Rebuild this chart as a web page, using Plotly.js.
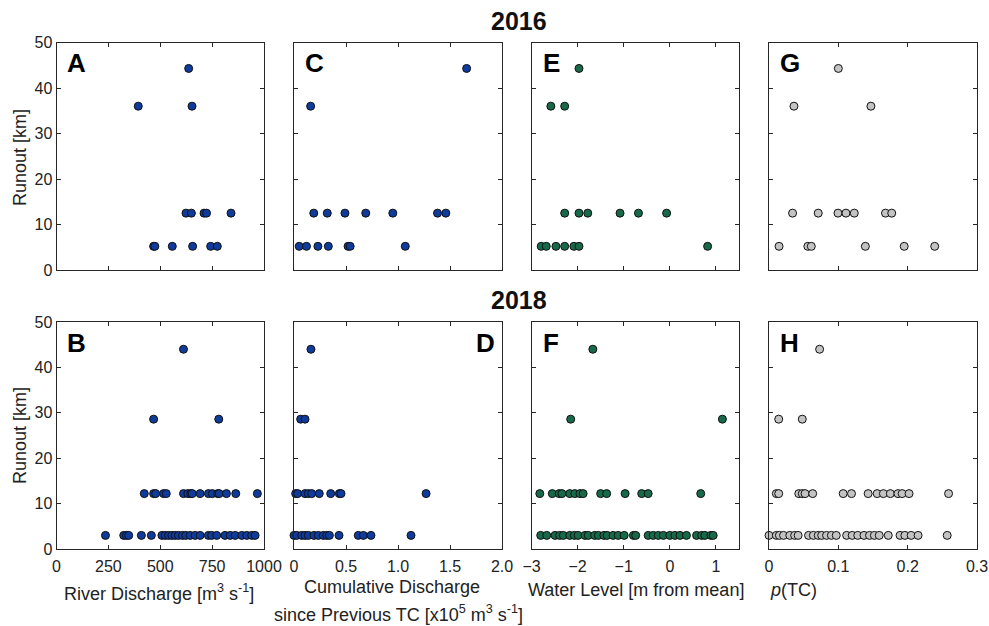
<!DOCTYPE html>
<html><head><meta charset="utf-8">
<script src="https://cdn.plot.ly/plotly-3.0.1.min.js"></script>
<style>html,body{margin:0;padding:0;background:#fff}#chart{width:989px;height:626px}</style>
</head><body><div id="chart"></div><script>
// ---------- 2016 ----------
const runoutA = [44.3, 36, 36, 12.5, 12.5, 12.5, 12.5, 12.5, 5.2, 5.2, 5.2, 5.2, 5.2, 5.2];
const dischargeA = [637, 394, 653, 624, 650, 711, 723, 841, 468, 474, 558, 656, 743, 775];

const runoutC = [44.3, 36, 12.5, 12.5, 12.5, 12.5, 12.5, 12.5, 12.5, 5.2, 5.2, 5.2, 5.2, 5.2, 5.2, 5.2];
const cumDischargeC = [1.66, 0.16, 0.19, 0.32, 0.49, 0.69, 0.95, 1.38, 1.46, 0.05, 0.12, 0.23, 0.33, 0.52, 0.54, 1.07];

const runoutE = [44.3, 36, 36, 12.5, 12.5, 12.5, 12.5, 12.5, 12.5, 5.2, 5.2, 5.2, 5.2, 5.2, 5.2, 5.2];
const waterLevelE = [-1.97, -2.58, -2.28, -2.28, -1.97, -1.78, -1.08, -0.68, -0.07, -2.79, -2.68, -2.47, -2.28, -2.08, -1.97, 0.82];

const runoutG = [44.3, 36, 36, 12.5, 12.5, 12.5, 12.5, 12.5, 12.5, 12.5, 5.2, 5.2, 5.2, 5.2, 5.2, 5.2];
const pTCG = [0.100, 0.036, 0.147, 0.034, 0.071, 0.0995, 0.111, 0.123, 0.168, 0.177, 0.0145, 0.056, 0.061, 0.139, 0.195, 0.239];

// ---------- 2018 ----------
const runoutB = [44, 28.6, 28.6,
  12.2, 12.2, 12.2, 12.2, 12.2, 12.2, 12.2, 12.2, 12.2, 12.2, 12.2, 12.2, 12.2, 12.2, 12.2, 12.2, 12.2,
  3.0, 3.0, 3.0, 3.0, 3.0, 3.0, 3.0, 3.0, 3.0, 3.0, 3.0, 3.0, 3.0, 3.0, 3.0, 3.0, 3.0, 3.0, 3.0, 3.0, 3.0, 3.0, 3.0, 3.0, 3.0, 3.0, 3.0];
const dischargeB = [612, 468, 782,
  423, 468, 478, 516, 529, 612, 633, 647, 654, 692, 732, 751, 777, 784, 819, 864, 968,
  236, 324, 337, 348, 409, 457, 508, 524, 540, 556, 572, 588, 607, 623, 644, 668, 692, 732, 748, 772, 812, 837, 861, 893, 917, 941, 957];

const runoutD = [44, 28.6, 28.6,
  12.2, 12.2, 12.2, 12.2, 12.2, 12.2, 12.2, 12.2, 12.2, 12.2,
  3.0, 3.0, 3.0, 3.0, 3.0, 3.0, 3.0, 3.0, 3.0, 3.0, 3.0, 3.0, 3.0, 3.0, 3.0];
const cumDischargeD = [0.163, 0.064, 0.106,
  0.016, 0.035, 0.106, 0.138, 0.17, 0.243, 0.353, 0.436, 0.452, 1.27,
  0.0, 0.026, 0.074, 0.106, 0.138, 0.192, 0.234, 0.282, 0.314, 0.34, 0.433, 0.618, 0.667, 0.74, 1.125];

const runoutF = [44, 28.6, 28.6,
  12.2, 12.2, 12.2, 12.2, 12.2, 12.2, 12.2, 12.2, 12.2, 12.2, 12.2, 12.2, 12.2, 12.2,
  3.0, 3.0, 3.0, 3.0, 3.0, 3.0, 3.0, 3.0, 3.0, 3.0, 3.0, 3.0, 3.0, 3.0, 3.0, 3.0,
  3.0, 3.0, 3.0, 3.0, 3.0, 3.0, 3.0, 3.0, 3.0, 3.0, 3.0, 3.0, 3.0, 3.0, 3.0, 3.0];
const waterLevelF = [-1.67, -2.15, 1.14,
  -2.82, -2.55, -2.40, -2.34, -2.17, -2.06, -1.95, -1.88, -1.50, -1.37, -0.97, -0.61, -0.47, 0.67,
  -2.80, -2.67, -2.49, -2.39, -2.31, -2.17, -2.07, -1.99, -1.84, -1.77, -1.63, -1.55, -1.43, -1.36, -1.23, -1.12,
  -0.99, -0.79, -0.74, -0.47, -0.36, -0.25, -0.14, 0.00, 0.11, 0.22, 0.36, 0.58, 0.69, 0.76, 0.89, 0.94];

const runoutH = [44, 28.6, 28.6,
  12.2, 12.2, 12.2, 12.2, 12.2, 12.2, 12.2, 12.2, 12.2, 12.2, 12.2, 12.2, 12.2, 12.2, 12.2, 12.2,
  3.0, 3.0, 3.0, 3.0, 3.0, 3.0, 3.0, 3.0, 3.0, 3.0, 3.0, 3.0, 3.0, 3.0,
  3.0, 3.0, 3.0, 3.0, 3.0, 3.0, 3.0, 3.0, 3.0, 3.0, 3.0, 3.0, 3.0];
const pTCH = [0.073, 0.014, 0.048,
  0.0106, 0.014, 0.043, 0.048, 0.052, 0.063, 0.107, 0.119, 0.143, 0.156, 0.165, 0.175, 0.186, 0.192, 0.202, 0.259,
  0.0, 0.0106, 0.015, 0.021, 0.030, 0.037, 0.042, 0.057, 0.064, 0.071, 0.076, 0.083, 0.090, 0.097,
  0.112, 0.120, 0.128, 0.137, 0.145, 0.152, 0.159, 0.172, 0.189, 0.196, 0.205, 0.215, 0.257];

// ---------- tick labels ----------
const runoutTicks = [0, 10, 20, 30, 40, 50];
const dischargeTicks = [0, 250, 500, 750, 1000];
const cumTicks = [0, 0.5, 1.0, 1.5, 2.0];
const cumTickText = ['0', '0.5', '1.0', '1.5', '2.0'];
const wlTicks = [-3, -2, -1, 0, 1];
const pTicks = [0, 0.1, 0.2, 0.3];

const BLUE = '#0f3b9c', GREEN = '#17694a', GRAY = '#c3c3c3';
const W = 989, H = 626;
const FONT = '"Liberation Sans", Arial, Helvetica, sans-serif';

const colPx = [[56.5, 264], [294, 502], [531.5, 739], [769, 977]];
const rowPx = [[42.5, 270], [322, 549]];
const xd = c => [colPx[c][0] / W, colPx[c][1] / W];
const yd = r => [1 - rowPx[r][1] / H, 1 - rowPx[r][0] / H];

const panels = [
  {x: dischargeA, y: runoutA, c: 0, r: 0, color: BLUE},
  {x: cumDischargeC, y: runoutC, c: 1, r: 0, color: BLUE},
  {x: waterLevelE, y: runoutE, c: 2, r: 0, color: GREEN},
  {x: pTCG, y: runoutG, c: 3, r: 0, color: GRAY},
  {x: dischargeB, y: runoutB, c: 0, r: 1, color: BLUE},
  {x: cumDischargeD, y: runoutD, c: 1, r: 1, color: BLUE},
  {x: waterLevelF, y: runoutF, c: 2, r: 1, color: GREEN},
  {x: pTCH, y: runoutH, c: 3, r: 1, color: GRAY}
];
const xCfg = [
  {range: [0, 1000], tickvals: dischargeTicks},
  {range: [0, 2], tickvals: cumTicks, ticktext: cumTickText},
  {range: [-3, 1.5], tickvals: wlTicks},
  {range: [0, 0.3], tickvals: pTicks}
];

const axBase = {
  showgrid: false, zeroline: false, showline: true, linecolor: '#262626', linewidth: 1,
  mirror: 'ticks', ticks: 'inside', ticklen: 4, tickcolor: '#262626',
  tickfont: {size: 16, color: '#222', family: FONT}, fixedrange: true
};

const data = [];
const layout = {
  width: W, height: H, margin: {l: 0, r: 0, t: 0, b: 0},
  paper_bgcolor: '#fff', plot_bgcolor: '#fff', showlegend: false,
  font: {family: FONT, color: '#222'}, annotations: []
};

panels.forEach((p, i) => {
  const n = i + 1, sx = n === 1 ? '' : String(n);
  data.push({
    type: 'scatter', mode: 'markers', x: p.x, y: p.y, xaxis: 'x' + sx, yaxis: 'y' + sx,
    cliponaxis: false, hoverinfo: 'skip',
    marker: {size: 8, color: p.color, line: {color: '#111', width: 1}}
  });
  layout['xaxis' + sx] = Object.assign({}, axBase, xCfg[p.c], {
    domain: xd(p.c), anchor: 'y' + sx, showticklabels: p.r === 1, tickmode: 'array',
    ticklabelstandoff: 3
  });
  layout['yaxis' + sx] = Object.assign({}, axBase, {
    range: [0, 50], tickvals: runoutTicks, tickmode: 'array',
    domain: yd(p.r), anchor: 'x' + sx, showticklabels: p.c === 0
  });
});

function ann(text, px, py, opts) {
  layout.annotations.push(Object.assign({
    text: text, xref: 'paper', yref: 'paper', x: px / W, y: 1 - py / H,
    showarrow: false, xanchor: 'center', yanchor: 'middle',
    font: {family: FONT, size: 18, color: '#222'}
  }, opts || {}));
}

// year titles
ann('<b>2016</b>', 519, 21, {font: {family: FONT, size: 25, color: '#111'}});
ann('<b>2018</b>', 519, 300, {font: {family: FONT, size: 25, color: '#111'}});

// panel letters
const letterFont = {family: FONT, size: 26, color: '#000'};
ann('<b>A</b>', 65, 63, {xanchor: 'left', font: letterFont});
ann('<b>C</b>', 303, 63, {xanchor: 'left', font: letterFont});
ann('<b>E</b>', 541, 63, {xanchor: 'left', font: letterFont});
ann('<b>G</b>', 778, 63, {xanchor: 'left', font: letterFont});
ann('<b>B</b>', 65, 343, {xanchor: 'left', font: letterFont});
ann('<b>D</b>', 497, 343, {xanchor: 'right', font: letterFont});
ann('<b>F</b>', 541, 343, {xanchor: 'left', font: letterFont});
ann('<b>H</b>', 778, 343, {xanchor: 'left', font: letterFont});

// y titles
ann('Runout [km]', 20, 158, {textangle: -90});
ann('Runout [km]', 20, 436, {textangle: -90});

// x titles
ann('River Discharge [m<sup>3</sup> s<sup>-1</sup>]', 159, 592);
ann('Cumulative Discharge', 392, 587);
ann('since Previous TC [x10<sup>5</sup> m<sup>3</sup> s<sup>-1</sup>]', 398, 613);
ann('Water Level [m from mean]', 636, 590);
ann('<i>p</i>(TC)', 768, 590, {xanchor: 'left'});

Plotly.newPlot('chart', data, layout, {staticPlot: true, displayModeBar: false});
</script></body></html>
